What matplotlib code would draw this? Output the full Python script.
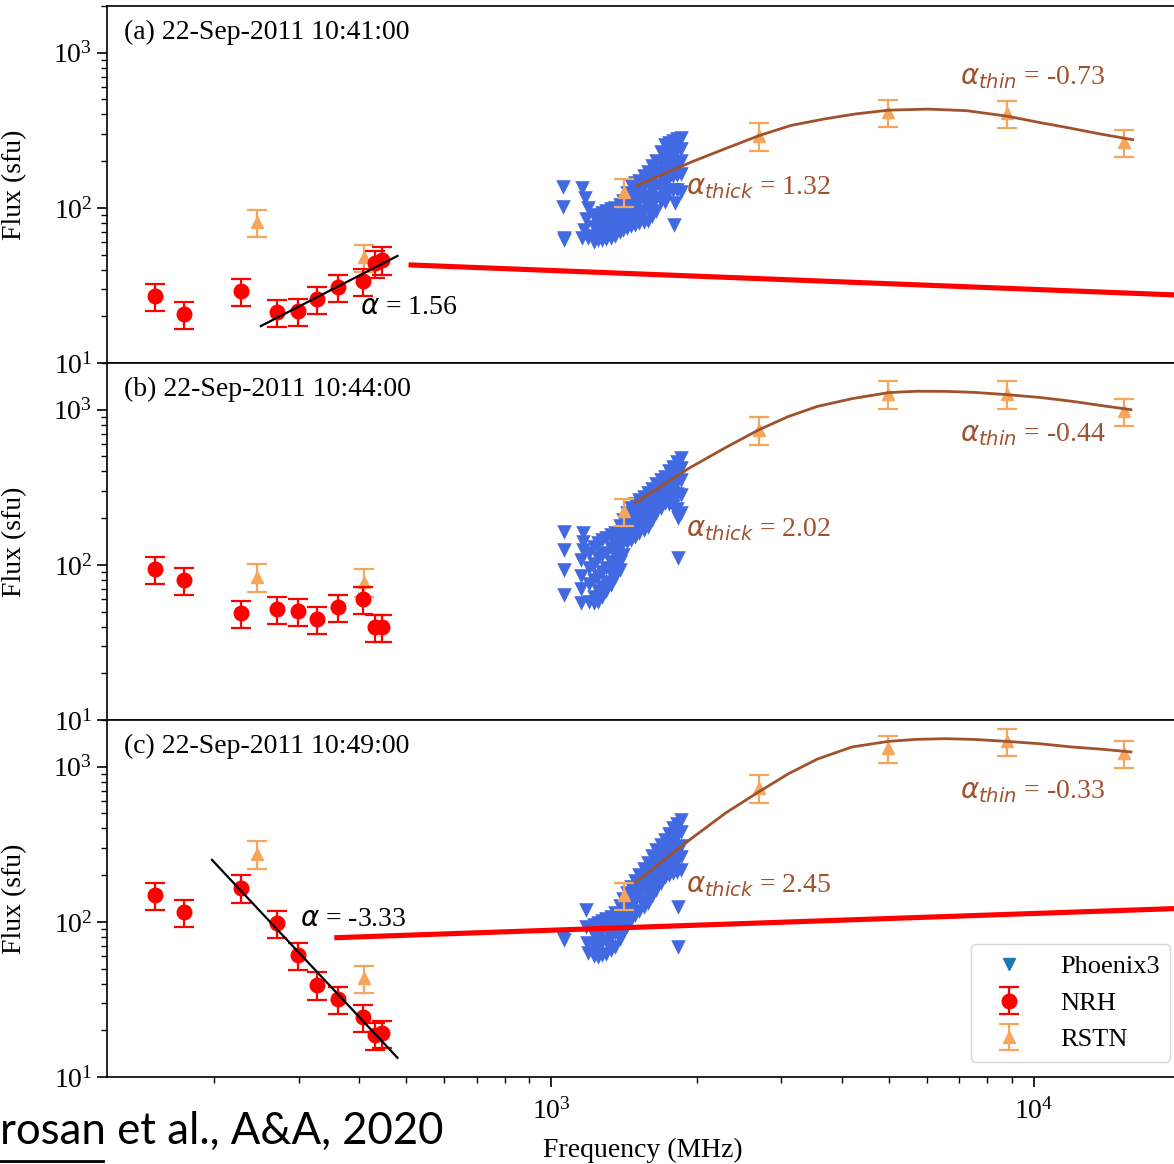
import matplotlib
matplotlib.use('Agg')
import matplotlib.pyplot as plt
from matplotlib.lines import Line2D

plt.rcParams['font.family'] = ['Liberation Serif', 'DejaVu Serif']
plt.rcParams['mathtext.fontset'] = 'dejavusans'
plt.rcParams['font.size'] = 20

# NRH and RSTN frequencies (MHz)
nrh_freq = [150.9, 173.2, 228.0, 270.6, 298.7, 327.0, 360.8, 408.0, 432.0, 445.0]
rstn_freq = [245, 410, 1415, 2695, 4995, 8800, 15400]

# flux densities (sfu)
nrh_flux_a = [27.0, 20.7, 29.2, 21.3, 21.6, 25.9, 30.9, 33.8, 44.2, 46.3]
nrh_flux_b = [94, 80, 49, 52, 50.5, 44.9, 53.6, 60, 39.8, 39.8]
nrh_flux_c = [149, 116, 166, 98.6, 61, 39.3, 31.8, 24.4, 18.7, 19.2]

rstn_flux_a = [81, 48, 127, 292, 412, 408, 264]
rstn_flux_b = [84, 78, 221, 743, 1268, 1268, 975]
rstn_flux_c = [275, 43.5, 149, 732, 1322, 1456, 1224]

# Phoenix3 spectra (one entry per plotted triangle)
pho_freq_a = [1060, 1060, 1062, 1065,
              1160, 1175, 1190, 1180, 1170, 1190, 1160,
              1225, 1225, 1225, 1225,
              1250, 1250, 1250, 1250,
              1275, 1275, 1275, 1275,
              1300, 1300, 1300, 1300,
              1330, 1330, 1330, 1330,
              1357, 1357, 1357, 1357,
              1385, 1385, 1385, 1385,
              1410, 1410, 1410, 1410,
              1437, 1437, 1437, 1437, 1437,
              1464, 1464, 1464, 1464, 1464,
              1492, 1492, 1492, 1492, 1492,
              1520, 1520, 1520, 1520, 1520,
              1555, 1555, 1555, 1555, 1555,
              1588, 1588, 1588, 1588, 1588,
              1620, 1620, 1620, 1620, 1620,
              1650, 1650, 1650, 1650, 1650,
              1686, 1686, 1686, 1686, 1686,
              1722, 1722, 1722, 1722, 1722, 1722,
              1756, 1756, 1756, 1756, 1756,
              1790, 1790, 1790, 1790, 1790,
              1825, 1825, 1825, 1825, 1825,
              1859, 1859, 1859, 1859, 1859,
              1806, 1800]
pho_flux_a = [137, 101, 64, 62,
              135, 115, 100, 85, 72, 64, 64,
              88, 75, 66, 60,
              90, 78, 68, 62,
              92, 80, 69, 62,
              95, 82, 70, 63,
              98, 85, 73, 64,
              100, 88, 76, 66,
              105, 92, 80, 70,
              110, 95, 82, 72,
              125, 108, 92, 80, 74,
              141, 120, 100, 85, 76,
              145, 125, 105, 88, 78,
              150, 130, 110, 92, 80,
              160, 138, 115, 96, 81,
              171, 145, 120, 100, 82,
              185, 158, 130, 108, 88,
              200, 170, 140, 115, 95,
              230, 195, 160, 132, 110,
              255, 215, 180, 150, 125, 109,
              262, 222, 185, 155, 128,
              270, 230, 190, 160, 130,
              278, 235, 195, 162, 130,
              283, 240, 200, 165, 127,
              108, 78]

pho_freq_b = [1062, 1062, 1062, 1062,
              1165, 1165, 1165,
              1154, 1154, 1154, 1154,
              1200, 1200, 1200, 1200,
              1225, 1225, 1225, 1225, 1225,
              1251, 1251, 1251, 1251, 1251,
              1275, 1275, 1275, 1275, 1275,
              1300, 1300, 1300, 1300, 1300,
              1330, 1330, 1330, 1330, 1330,
              1357, 1357, 1357, 1357, 1357,
              1385, 1385, 1385, 1385, 1385,
              1410, 1410, 1410, 1410,
              1437, 1437, 1437, 1437,
              1464, 1464, 1464, 1464, 1464,
              1492, 1492, 1492, 1492, 1492,
              1520, 1520, 1520, 1520, 1520,
              1555, 1555, 1555, 1555, 1555,
              1588, 1588, 1588, 1588, 1588,
              1620, 1620, 1620, 1620, 1620,
              1650, 1650, 1650, 1650, 1650,
              1686, 1686, 1686, 1686, 1686,
              1722, 1722, 1722, 1722, 1722,
              1756, 1756, 1756, 1756, 1756,
              1790, 1790, 1790, 1790, 1790,
              1825, 1825, 1825, 1825, 1825,
              1859, 1859, 1859, 1859, 1859,
              1830, 1830]
pho_flux_b = [163, 125, 93, 64,
              160, 140, 125,
              108, 85, 70, 57,
              120, 95, 75, 58,
              130, 102, 80, 62, 57,
              139, 110, 85, 68, 58,
              145, 115, 90, 72, 62,
              150, 120, 95, 78, 68,
              155, 128, 105, 88, 74,
              161, 135, 115, 98, 84,
              178, 150, 128, 105, 92,
              195, 165, 140, 115,
              215, 185, 160, 140,
              233, 205, 180, 160, 145,
              245, 218, 190, 170, 152,
              260, 230, 200, 178, 160,
              275, 245, 215, 190, 168,
              292, 260, 230, 200, 176,
              310, 280, 250, 220, 195,
              330, 300, 270, 240, 215,
              350, 315, 285, 255, 232,
              370, 330, 300, 270, 251,
              400, 355, 315, 280, 245,
              430, 380, 330, 290, 240,
              460, 400, 340, 285, 228,
              490, 420, 350, 280, 216,
              200, 111]

pho_freq_c = [1060, 1062,
              1180, 1180, 1185, 1190,
              1225, 1225, 1225, 1225,
              1251, 1251, 1251, 1251,
              1275, 1275, 1275, 1275,
              1300, 1300, 1300, 1300,
              1330, 1330, 1330, 1330,
              1357, 1357, 1357, 1357,
              1385, 1385, 1385, 1385,
              1410, 1410, 1410, 1410,
              1437, 1437, 1437, 1437,
              1464, 1464, 1464, 1464,
              1492, 1492, 1492, 1492,
              1520, 1520, 1520, 1520,
              1555, 1555, 1555, 1555, 1555,
              1588, 1588, 1588, 1588, 1588,
              1620, 1620, 1620, 1620, 1620,
              1650, 1650, 1650, 1650, 1650,
              1686, 1686, 1686, 1686, 1686,
              1722, 1722, 1722, 1722, 1722,
              1756, 1756, 1756, 1756, 1756,
              1790, 1790, 1790, 1790, 1790,
              1825, 1825, 1825, 1825, 1825,
              1859, 1859, 1859, 1859, 1859,
              1830, 1835]
pho_flux_c = [80, 76,
              119, 93, 73, 63,
              96, 82, 70, 60,
              99, 85, 72, 59,
              102, 88, 74, 61,
              105, 90, 75, 62,
              108, 95, 80, 66,
              114, 100, 85, 69,
              126, 110, 93, 77,
              140, 120, 100, 85,
              154, 132, 112, 94,
              168, 145, 125, 103,
              184, 160, 137, 110,
              200, 175, 150, 118,
              220, 192, 165, 136, 125,
              240, 210, 180, 155, 133,
              265, 230, 198, 168, 146,
              290, 250, 215, 180, 160,
              314, 275, 238, 202, 178,
              338, 300, 260, 225, 195,
              370, 320, 275, 232, 200,
              400, 340, 290, 240, 205,
              428, 360, 300, 250, 210,
              455, 380, 310, 260, 216,
              125, 69]

gs_freq_a = [1507, 1720, 1964, 2312, 2695, 3140, 3700, 4270, 4995, 6040,
             7260, 8800, 10280, 11860, 13680, 16040]
gs_flux_a = [139, 167, 199, 243, 292, 340, 375, 403, 426, 433,
             423, 390, 355, 327, 300, 275]
gs_freq_bc = [1493, 1936, 2300, 2695, 3100, 3560, 4200, 4995, 5700, 6550,
              7500, 8800, 10300, 12000, 13800, 15900]
gs_flux_b = [251, 422, 571, 743, 904, 1050, 1178, 1288, 1315, 1313,
             1294, 1250, 1199, 1133, 1064, 1000]
gs_flux_c = [179, 338, 504, 690, 900, 1120, 1340, 1456, 1500, 1516,
             1500, 1456, 1406, 1340, 1297, 1245]

# power-law fits on NRH points
fit_freq_a = [250, 480]
fit_flux_a = [17.3, 49]
fit_freq_c = [198, 480]
fit_flux_c = [251, 13.3]

# red marker lines drawn over the figure
red_freq_a = [506, 20000]
red_flux_a = [42.9, 27.4]
red_freq_c = [355, 20000]
red_flux_c = [79, 122]

titles = ['(a) 22-Sep-2011 10:41:00', '(b) 22-Sep-2011 10:44:00',
          '(c) 22-Sep-2011 10:49:00']
alpha_thick = ['1.32', '2.02', '2.45']
alpha_thin = ['-0.73', '-0.44', '-0.33']
thick_label_y = [135, 168, 170]

nrh_col = '#ff0000'
rstn_col = '#f5a55c'
pho_col = '#4169e1'
gs_col = '#a0522d'

fig = plt.figure(figsize=(11.74, 11.64), dpi=100)
W, H = 1174.0, 1164.0
left, right = 107 / W, 1179 / W
ph = 357 / H
bottom = 1 - 1077 / H
axes = []
for i in range(3):
    y0 = bottom + (2 - i) * ph
    ax = fig.add_axes([left, y0, right - left, ph], sharex=axes[0] if axes else None)
    axes.append(ax)

nrh_all = [nrh_flux_a, nrh_flux_b, nrh_flux_c]
rstn_all = [rstn_flux_a, rstn_flux_b, rstn_flux_c]
pho_f_all = [pho_freq_a, pho_freq_b, pho_freq_c]
pho_s_all = [pho_flux_a, pho_flux_b, pho_flux_c]
gs_f_all = [gs_freq_a, gs_freq_bc, gs_freq_bc]
gs_s_all = [gs_flux_a, gs_flux_b, gs_flux_c]

for i, ax in enumerate(axes):
    ax.set_xscale('log')
    ax.set_yscale('log')
    ax.set_xlim(120, 20000)
    ax.set_ylim(10, 2000)

    ax.scatter(pho_f_all[i], pho_s_all[i], marker='v', s=110, color=pho_col,
               linewidths=0, zorder=2)
    rs = ax.errorbar(rstn_freq, rstn_all[i], yerr=[0.2 * v for v in rstn_all[i]],
                     fmt='^', color=rstn_col, ms=8, capsize=7, elinewidth=1.6,
                     capthick=1.6, zorder=3)
    nr = ax.errorbar(nrh_freq, nrh_all[i], yerr=[0.2 * v for v in nrh_all[i]],
                     fmt='o', color=nrh_col, ms=10.5, capsize=7, elinewidth=1.6,
                     capthick=1.6, zorder=4)
    ax.plot(gs_f_all[i], gs_s_all[i], color=gs_col, lw=2, zorder=5)

    ax.text(0.016, 0.925, titles[i], transform=ax.transAxes, va='center', ha='left')
    ax.text(1903, thick_label_y[i], r'$\alpha_{thick}$ = ' + alpha_thick[i],
            color=gs_col, va='center', ha='left', zorder=6)
    ax.text(7030, 690, r'$\alpha_{thin}$ = ' + alpha_thin[i],
            color=gs_col, va='center', ha='left', zorder=6)

    ax.tick_params(which='both', direction='out', top=False, right=False, labelsize=20)
    ax.tick_params(which='major', length=7, width=1.2)
    ax.tick_params(which='minor', length=4, width=1)
    ax.tick_params(axis='x', pad=8)
    ax.yaxis.set_label_coords(-0.0746, 0.5)
    ax.set_ylabel('Flux (sfu)')
    for sp in ax.spines.values():
        sp.set_linewidth(1.2)
    if i < 2:
        ax.tick_params(which='both', bottom=False, labelbottom=False)

# power-law fits and alpha labels
axes[0].plot(fit_freq_a, fit_flux_a, color='black', lw=1.6, zorder=6)
axes[0].text(402, 22.7, r'$\alpha$ = 1.56', va='center', ha='left')
axes[2].plot(fit_freq_c, fit_flux_c, color='black', lw=1.6, zorder=6)
axes[2].text(302, 103, r'$\alpha$ = -3.33', va='center', ha='left')

# thick red lines
axes[0].plot(red_freq_a, red_flux_a, color='red', lw=3.7, zorder=8,
             clip_on=False, solid_capstyle='butt')
axes[2].plot(red_freq_c, red_flux_c, color='red', lw=3.7, zorder=8,
             clip_on=False, solid_capstyle='butt')

axes[2].set_xlabel('Frequency (MHz)')
axes[2].xaxis.set_label_coords(0.5, -0.17)

pho_handle = Line2D([], [], marker='v', color='#1f77b4', linestyle='none', markersize=9)
axes[2].legend([pho_handle, nr, rs], ['Phoenix3', 'NRH', 'RSTN'], loc='lower right',
               bbox_to_anchor=(0.992, 0.042), borderaxespad=0, handlelength=2.1,
               handletextpad=0.9, fontsize=19, framealpha=0.8, edgecolor='#cccccc')

fig.text(0.0, 1 - 1144 / H, 'rosan et al., A&A, 2020', family=['Lato', 'DejaVu Sans'],
         fontsize=31.5, va='baseline', ha='left')
fig.add_artist(Line2D([0, 103 / W], [1 - 1161 / H, 1 - 1161 / H], color='black', lw=2))

fig.savefig('out.png', dpi=100)
